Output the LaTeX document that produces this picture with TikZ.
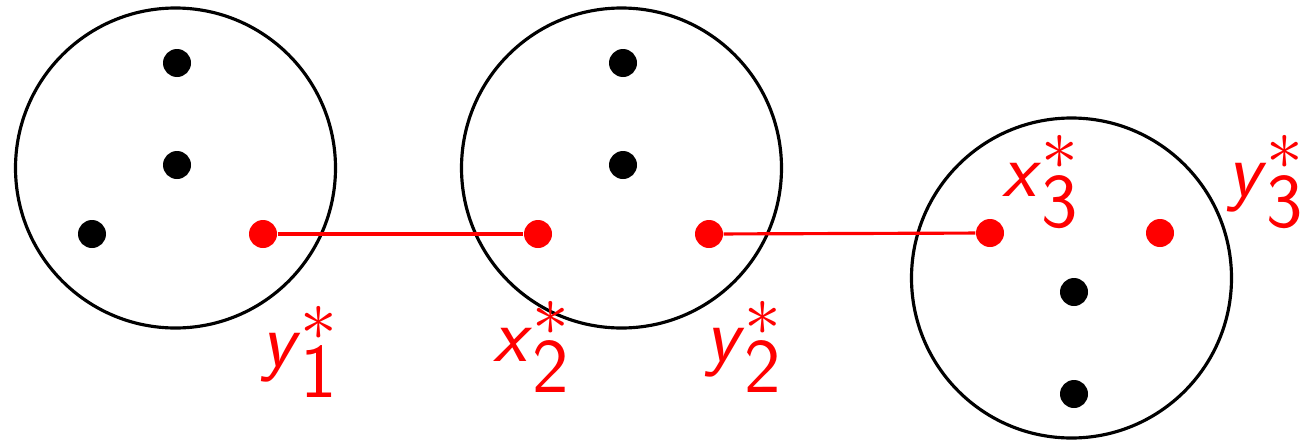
\documentclass[tikz,border=0pt]{standalone}
\usepackage{fontspec}
\usepackage{tikz}
\usetikzlibrary{positioning}
\tikzset{
    % Group circles
    group/.style={circle, draw=black, line width=0.9pt, minimum size=3.2cm, inner sep=0pt},
    % Points inside the groups
    blackdot/.style={circle, fill=black, minimum size=0.28cm, inner sep=0pt},
    reddot/.style={circle, fill=red, minimum size=0.28cm, inner sep=0pt},
    % Link between chosen points
    linkedge/.style={line width=0.9pt, red},
    % Labels of chosen points
    ptlabel/.style={text=red, inner sep=0pt, font=\fontsize{22}{26}\selectfont}
}
\newcommand{\ptname}[2]{$\textsf{\textit{#1}}^{\scalebox{1.45}{$\scriptstyle *$}}_{\textsf{#2}}$}

\begin{document}
\begin{tikzpicture}
  \useasboundingbox (0,0) rectangle (13.05,4.44);
  % groups
  \node[group] (g1) at (1.755,2.76) {};
  \node[group] (g2) at (6.215,2.76) {};
  \node[group] (g3) at (10.715,1.66) {};
  % points of the first group
  \node[blackdot] (a1) at (1.77,3.81) {};
  \node[blackdot] (a2) at (1.77,2.79) {};
  \node[blackdot] (a3) at (0.92,2.10) {};
  \node[reddot]   (y1) at (2.63,2.10) {};
  % points of the second group
  \node[blackdot] (b1) at (6.23,3.81) {};
  \node[blackdot] (b2) at (6.23,2.79) {};
  \node[reddot]   (x2) at (5.38,2.10) {};
  \node[reddot]   (y2) at (7.09,2.10) {};
  % points of the third group
  \node[reddot]   (x3) at (9.90,2.11) {};
  \node[reddot]   (y3) at (11.60,2.11) {};
  \node[blackdot] (c1) at (10.74,1.52) {};
  \node[blackdot] (c2) at (10.74,0.50) {};
  % links
  \draw[linkedge] (y1)--(x2);
  \draw[linkedge] (y2)--(x3);
  % labels
  \node[ptlabel] (ly1) at (3.00,0.92) {\ptname{y}{1}};
  \node[ptlabel] (lx2) at (5.32,0.97) {\ptname{x}{2}};
  \node[ptlabel] (ly2) at (7.44,0.97) {\ptname{y}{2}};
  \node[ptlabel] (lx3) at (10.41,2.62) {\ptname{x}{3}};
  \node[ptlabel] (ly3) at (12.66,2.62) {\ptname{y}{3}};
\end{tikzpicture}
\end{document}
